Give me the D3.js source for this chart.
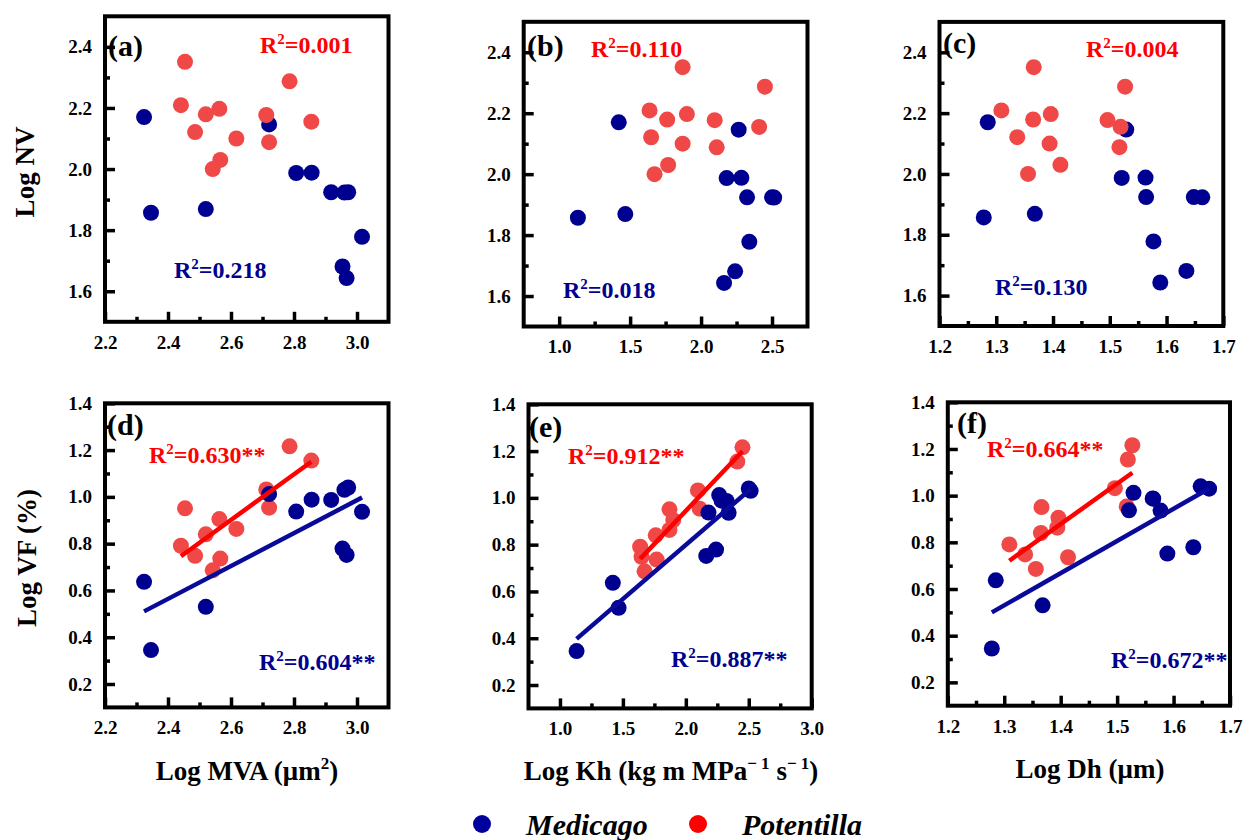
<!DOCTYPE html>
<html>
<head>
<meta charset="utf-8">
<script src="https://cdn.jsdelivr.net/npm/d3@7"></script>
<style>
  html, body { margin: 0; padding: 0; background: #fff; }
  svg { display: block; }
  text { font-family: "Liberation Serif", "Times New Roman", serif; font-weight: bold; }
</style>
</head>
<body>
<svg id="chart" width="1250" height="840"></svg>
<script>
// ---------------- DATA ----------------
// Medicago (12 samples)
const medMVA = [2.324, 2.346, 2.520, 2.721, 2.807, 2.856, 2.918, 2.960, 2.972, 3.016, 2.954, 2.967];
const medKh  = [1.420, 1.132, 1.466, 2.265, 2.180, 2.284, 2.324, 2.515, 2.500, 2.340, 2.240, 2.162];
const medDh  = [1.285, 1.278, 1.368, 1.529, 1.521, 1.563, 1.564, 1.663, 1.648, 1.577, 1.635, 1.589];
const medNV  = [2.170, 1.857, 1.869, 2.146, 1.987, 1.988, 1.924, 1.923, 1.924, 1.778, 1.681, 1.643];
const medVF  = [0.637, 0.345, 0.530, 1.012, 0.937, 0.988, 0.987, 1.030, 1.040, 0.936, 0.779, 0.752];
// Potentilla (12 samples)
const potMVA = [2.454, 2.441, 2.520, 2.563, 2.486, 2.617, 2.566, 2.542, 2.712, 2.721, 2.786, 2.855];
const potKh  = [1.870, 1.637, 1.761, 1.900, 1.648, 1.870, 1.768, 1.672, 2.096, 2.110, 2.450, 2.409];
const potDh  = [1.366, 1.309, 1.365, 1.396, 1.337, 1.394, 1.413, 1.356, 1.496, 1.517, 1.527, 1.519];
const potNV  = [2.351, 2.209, 2.179, 2.197, 2.121, 2.100, 2.030, 2.000, 2.177, 2.088, 2.287, 2.155];
const potVF  = [0.951, 0.791, 0.840, 0.905, 0.748, 0.863, 0.736, 0.686, 1.032, 0.954, 1.216, 1.155];

// R² annotations (potentilla, medicago) per panel
const r2Pot = ["0.001", "0.110", "0.004", "0.630**", "0.912**", "0.664**"];
const r2Med = ["0.218", "0.018", "0.130", "0.604**", "0.887**", "0.672**"];
const panelLetters = ["(a)", "(b)", "(c)", "(d)", "(e)", "(f)"];

// tick values
const xTicksMVA = [2.2, 2.4, 2.6, 2.8, 3.0];
const xMinorMVA = [2.3, 2.5, 2.7, 2.9];
const xTicksKhTop = [1.0, 1.5, 2.0, 2.5];
const xMinorKhTop = [1.25, 1.75, 2.25];
const xTicksKhBot = [1.0, 1.5, 2.0, 2.5, 3.0];
const xMinorKhBot = [1.25, 1.75, 2.25, 2.75];
const xTicksDh = [1.2, 1.3, 1.4, 1.5, 1.6, 1.7];
const xMinorDh = [1.25, 1.35, 1.45, 1.55, 1.65];
const yTicksNV = [1.6, 1.8, 2.0, 2.2, 2.4];
const yMinorNV = [1.7, 1.9, 2.1, 2.3];
const yTicksVF = [0.2, 0.4, 0.6, 0.8, 1.0, 1.2, 1.4];
const yMinorVF = [0.3, 0.5, 0.7, 0.9, 1.1, 1.3];

// ---------------- STYLE / LAYOUT ----------------
const BLUE = "#000090";
const BLUE_LINE = "#0a0a9a";
const RED_PT = "#f04747";
const RED_LINE = "#ff0000";

const panels = [
  { i:0, left:105,   top:16.3,  w:283.5, h:305.5, xd:[2.2,3.1],  yd:[1.5,2.5], xs:[medMVA,potMVA], ys:[medNV,potNV], xt:xTicksMVA, xm:xMinorMVA, yt:yTicksNV, ym:yMinorNV, fit:false, redTop:true,
    letter:[108,56], r2p:[260,53], r2m:[174,278] },
  { i:1, left:523.7, top:21.8,  w:283.8, h:304.7, xd:[0.75,2.75], yd:[1.5,2.5], xs:[medKh,potKh], ys:[medNV,potNV], xt:xTicksKhTop, xm:xMinorKhTop, yt:yTicksNV, ym:yMinorNV, fit:false, redTop:true,
    letter:[527,56], r2p:[591,57], r2m:[563,298] },
  { i:2, left:939.5, top:21.9,  w:283.8, h:304.1, xd:[1.2,1.7],  yd:[1.5,2.5], xs:[medDh,potDh], ys:[medNV,potNV], xt:xTicksDh, xm:xMinorDh, yt:yTicksNV, ym:yMinorNV, fit:false, redTop:true,
    letter:[943,53], r2p:[1086,57], r2m:[995,295] },
  { i:3, left:105,   top:403.3, w:283.5, h:304.1, xd:[2.2,3.1],  yd:[0.1,1.4], xs:[medMVA,potMVA], ys:[medVF,potVF], xt:xTicksMVA, xm:xMinorMVA, yt:yTicksVF, ym:yMinorVF, fit:true, redTop:false,
    letter:[107,435], r2p:[149,463], r2m:[259,670] },
  { i:4, left:528.5, top:404.3, w:283.2, h:304.1, xd:[0.75,3.0], yd:[0.1,1.4], xs:[medKh,potKh], ys:[medVF,potVF], xt:xTicksKhBot, xm:xMinorKhBot, yt:yTicksVF, ym:yMinorVF, fit:true, redTop:false,
    letter:[529,437], r2p:[568,464], r2m:[671,667] },
  { i:5, left:947.8, top:402.3, w:282.2, h:303.4, xd:[1.2,1.7],  yd:[0.1,1.4], xs:[medDh,potDh], ys:[medVF,potVF], xt:xTicksDh, xm:xMinorDh, yt:yTicksVF, ym:yMinorVF, fit:true, redTop:false,
    letter:[957,433], r2p:[987,457], r2m:[1111,668] }
];

const svg = d3.select("#chart");
const fmt = d3.format(".1f");

function ols(xs, ys) {
  const mx = d3.mean(xs), my = d3.mean(ys);
  let sxy = 0, sxx = 0;
  xs.forEach((x, k) => { sxy += (x - mx) * (ys[k] - my); sxx += (x - mx) * (x - mx); });
  const b = sxy / sxx;
  return { b, a: my - b * mx };
}

function r2Text(g, x, y, val, color) {
  const t = g.append("text").attr("x", x).attr("y", y).attr("fill", color).attr("font-size", 24);
  t.append("tspan").text("R");
  t.append("tspan").attr("dy", -9).attr("font-size", 15).text("2");
  t.append("tspan").attr("dy", 9).text("=" + val);
}

panels.forEach(p => {
  const x = d3.scaleLinear().domain(p.xd).range([p.left, p.left + p.w]);
  const y = d3.scaleLinear().domain(p.yd).range([p.top + p.h, p.top]);
  const g = svg.append("g");

  // axes (ticks inward)
  const bottom = p.top + p.h;
  const gx = g.append("g").attr("transform", `translate(0,${bottom})`)
    .call(d3.axisBottom(x).tickValues(p.xt).tickFormat(fmt).tickSizeInner(-10).tickSizeOuter(0).tickPadding(13.5));
  const gxm = g.append("g").attr("transform", `translate(0,${bottom})`)
    .call(d3.axisBottom(x).tickValues(p.xm).tickFormat("").tickSizeInner(-5).tickSizeOuter(0));
  const gy = g.append("g").attr("transform", `translate(${p.left},0)`)
    .call(d3.axisLeft(y).tickValues(p.yt).tickFormat(fmt).tickSizeInner(-10).tickSizeOuter(0).tickPadding(13));
  const gym = g.append("g").attr("transform", `translate(${p.left},0)`)
    .call(d3.axisLeft(y).tickValues(p.ym).tickFormat("").tickSizeInner(-5).tickSizeOuter(0));
  [gx, gxm, gy, gym].forEach(a => {
    a.select(".domain").remove();
    a.selectAll(".tick line").attr("stroke", "#000").attr("stroke-width", 3.5);
    a.selectAll(".tick text").attr("font-size", 19).attr("fill", "#000")
      .attr("font-family", '"Liberation Serif", "Times New Roman", serif').attr("font-weight", "bold");
  });

  // frame
  g.append("rect").attr("x", p.left).attr("y", p.top).attr("width", p.w).attr("height", p.h)
    .attr("fill", "none").attr("stroke", "#000").attr("stroke-width", 4);

  // points
  const series = [
    { xs: p.xs[0], ys: p.ys[0], fill: BLUE, line: BLUE_LINE },
    { xs: p.xs[1], ys: p.ys[1], fill: RED_PT, line: RED_LINE }
  ];
  const order = p.redTop ? [0, 1] : [1, 0];
  order.forEach(si => {
    const s = series[si];
    g.append("g").selectAll("circle").data(s.xs.map((v, k) => [v, s.ys[k]])).join("circle")
      .attr("cx", d => x(d[0])).attr("cy", d => y(d[1])).attr("r", 8).attr("fill", s.fill);
  });

  // regression lines
  if (p.fit) {
    series.forEach(s => {
      const f = ols(s.xs, s.ys);
      const ext = d3.extent(s.xs);
      g.append("line")
        .attr("x1", x(ext[0])).attr("y1", y(f.a + f.b * ext[0]))
        .attr("x2", x(ext[1])).attr("y2", y(f.a + f.b * ext[1]))
        .attr("stroke", s.line).attr("stroke-width", 4.5);
    });
  }

  // letters & R2
  g.append("text").attr("x", p.letter[0]).attr("y", p.letter[1]).attr("font-size", 30).attr("fill", "#000").text(panelLetters[p.i]);
  r2Text(g, p.r2p[0], p.r2p[1], r2Pot[p.i], RED_LINE);
  r2Text(g, p.r2m[0], p.r2m[1], r2Med[p.i], BLUE);
});

// axis titles
svg.append("text").attr("transform", "translate(34,172) rotate(-90)").attr("text-anchor", "middle")
  .attr("font-size", 27).text("Log NV");
svg.append("text").attr("transform", "translate(36,558) rotate(-90)").attr("text-anchor", "middle")
  .attr("font-size", 27).text("Log VF (%)");

const t1 = svg.append("text").attr("x", 247).attr("y", 780).attr("text-anchor", "middle").attr("font-size", 27);
t1.append("tspan").text("Log MVA (μm");
t1.append("tspan").attr("dy", -11).attr("font-size", 17).text("2");
t1.append("tspan").attr("dy", 11).text(")");

const t2 = svg.append("text").attr("x", 671).attr("y", 780).attr("text-anchor", "middle").attr("font-size", 27);
t2.append("tspan").text("Log Kh (kg m MPa");
t2.append("tspan").attr("dy", -11).attr("font-size", 17).text("− 1");
t2.append("tspan").attr("dy", 11).text(" s");
t2.append("tspan").attr("dy", -11).attr("font-size", 17).text("− 1");
t2.append("tspan").attr("dy", 11).text(")");

svg.append("text").attr("x", 1090).attr("y", 778).attr("text-anchor", "middle").attr("font-size", 27).text("Log Dh (μm)");

// legend
const legend = [
  { name: "Medicago", color: "#00009c", cx: 482, tx: 526 },
  { name: "Potentilla", color: "#ff0000", cx: 698, tx: 742 }
];
legend.forEach(l => {
  svg.append("circle").attr("cx", l.cx).attr("cy", 824).attr("r", 9).attr("fill", l.color);
  svg.append("text").attr("x", l.tx).attr("y", 835).attr("font-size", 30).attr("font-style", "italic").text(l.name);
});
</script>
</body>
</html>
